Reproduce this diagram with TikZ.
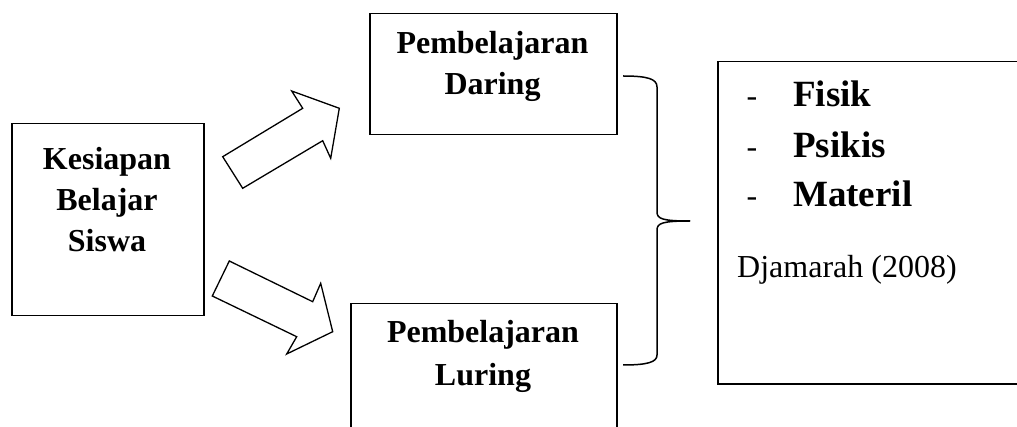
\documentclass[tikz,border=0pt]{standalone}
\usepackage{fontspec}
\setmainfont{Liberation Serif}
\begin{document}
\begin{tikzpicture}[x=1pt,y=-1pt,
  frame/.style={draw=black,line width=1.5pt,rectangle,inner sep=0pt,anchor=north west},
  head/.style={font=\fontsize{32}{38}\selectfont\bfseries,anchor=base,inner sep=0pt},
  item/.style={font=\fontsize{37}{44}\selectfont\bfseries,anchor=base west,inner sep=0pt},
  bullet/.style={font=\fontsize{32}{38}\selectfont,anchor=base,inner sep=0pt},
  cite/.style={font=\fontsize{32}{38}\selectfont,anchor=base west,inner sep=0pt},
  blockarrow/.style={draw=black,line width=1.3pt,line join=miter,fill=white},
  bracket/.style={draw=black,line width=1.5pt}]
\useasboundingbox (0,0) rectangle (1017,427);
\clip (0,0) rectangle (1017,427);

% boxes
\node[frame,minimum width=192pt,minimum height=192pt] (ksb) at (11,123) {};
\node[frame,minimum width=247pt,minimum height=121pt] (daring) at (369,13) {};
\node[frame,minimum width=266pt,minimum height=140pt] (luring) at (350,303) {};
\node[frame,minimum width=320pt,minimum height=322pt] (faktor) at (717,61) {};

% box texts
\node[head] (ksb1) at (107,170) {Kesiapan};
\node[head] (ksb2) at (107,211) {Belajar};
\node[head] (ksb3) at (107,252) {Siswa};

\node[head] (dar1) at (492.5,54) {Pembelajaran};
\node[head] (dar2) at (492.5,95) {Daring};

\node[head] (lur1) at (483,343) {Pembelajaran};
\node[head] (lur2) at (483,385) {Luring};

\node[bullet] (d1) at (752,107) {-};
\node[bullet] (d2) at (752,158) {-};
\node[bullet] (d3) at (752,207) {-};
\node[item] (fisik) at (793,107) {Fisik};
\node[item] (psikis) at (793,158) {Psikis};
\node[item] (materil) at (793,207) {Materil};
\node[cite] (ref) at (737,278) {Djamarah (2008)};

% block arrows from the left box to both learning modes
\draw[blockarrow] (222.7,156.7) -- (302.7,108.3) -- (291.7,91) -- (339.3,108.3)
  -- (330.7,158.3) -- (322.7,140.7) -- (242.7,188.3) -- cycle;
\draw[blockarrow] (229.3,261) -- (312.7,301.7) -- (320.7,283.3) -- (332.7,331.7)
  -- (286.7,354) -- (296.7,336.7) -- (212.3,296) -- cycle;

% curly bracket joining both modes towards the factor box
\coordinate (bt) at (623,76);
\coordinate (bm) at (690,221);
\coordinate (bb) at (623,365);
\draw[bracket] (bt) .. controls (648,76) and (657,79) .. (657,87) -- (657,212)
  .. controls (657,219) and (663,221) .. (bm);
\draw[bracket] (bm) .. controls (663,221) and (657,223) .. (657,230) -- (657,355)
  .. controls (657,362) and (648,365) .. (bb);
\end{tikzpicture}
\end{document}
